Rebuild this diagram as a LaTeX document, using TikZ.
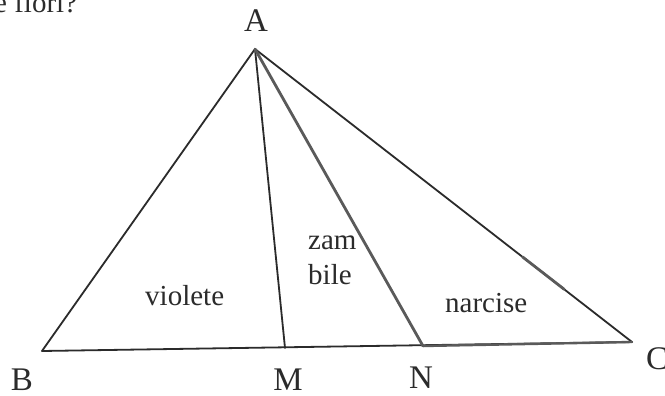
\documentclass[tikz,border=0pt]{standalone}
\usepackage{fontspec}
\setmainfont{Liberation Serif}
\usetikzlibrary{calc}
\definecolor{ink}{HTML}{2B2B2B}
\definecolor{pencil}{HTML}{5A5A5A}
\begin{document}
\begin{tikzpicture}[x=1pt,y=-1pt,
  edge/.style={draw=ink, line width=1.8pt, line cap=round, line join=round},
  heavy/.style={draw=pencil, line width=2.8pt, line cap=round},
  letter/.style={font=\fontsize{33}{36}\selectfont, text=ink, inner sep=0pt, anchor=base},
  region/.style={font=\fontsize{29}{32}\selectfont, text=ink, inner sep=0pt, anchor=base west}]
  \useasboundingbox[fill=white] (0,0) rectangle (665,396);
  % vertices
  \coordinate (A) at (255,49);
  \coordinate (B) at (42,351);
  \coordinate (M) at (285,348);
  \coordinate (N) at (423,346);
  \coordinate (C) at (632,342);
  \coordinate (acs) at ($(A)!0.71!(C)$);
  \coordinate (ace) at ($(A)!0.82!(C)$);
  % sides
  \draw[edge] (B) -- (C);
  \draw[edge] (A) -- (B);
  \draw[edge] (A) -- (C);
  \draw[edge] (A) -- (M);
  \draw[heavy] (A) -- (N);
  \draw[heavy, line width=2.4pt] (N) -- (C);
  \draw[heavy] (acs) -- (ace);
  % vertex labels
  \node[letter] (lA) at (256,32) {A};
  \node[letter] (lB) at (22,390) {B};
  \node[letter] (lM) at (288,390) {M};
  \node[letter] (lN) at (421,388) {N};
  \node[letter, anchor=base west] (lC) at (646,369) {C};
  % region labels
  \node[region] (viol) at (145,305) {violete};
  \node[region] (zam) at (308,249) {zam};
  \node[region] (bile) at (308,284) {bile};
  \node[region] (narc) at (445,312) {narcise};
  % cut-off question text at top
  \node[region] (q) at (-6,13) {e flori?};
\end{tikzpicture}
\end{document}
